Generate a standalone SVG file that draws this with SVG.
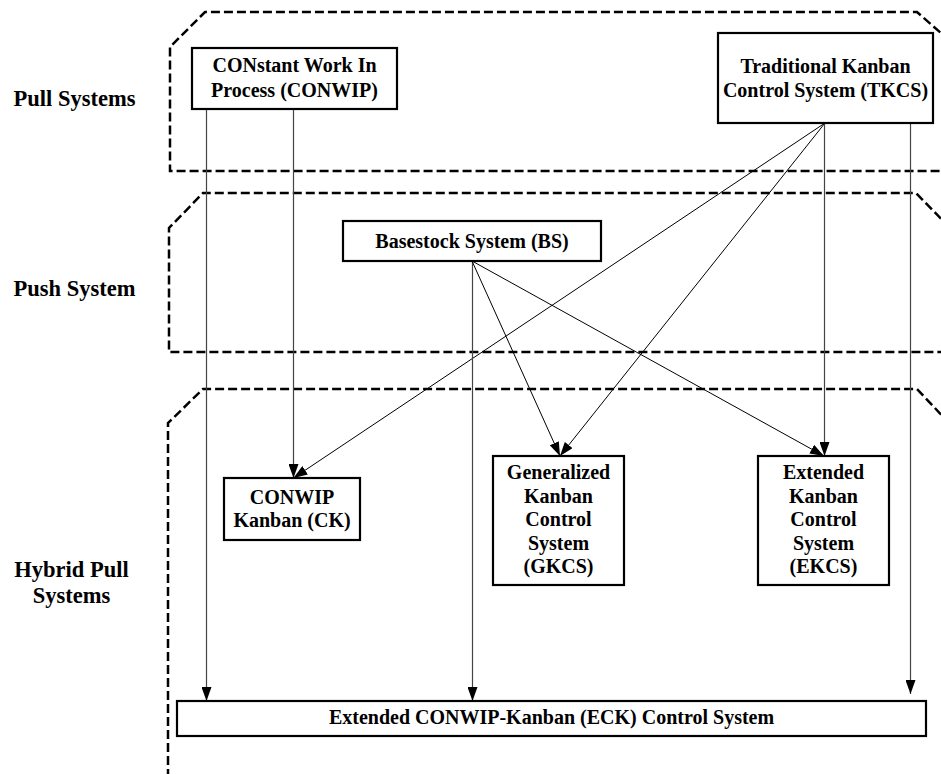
<svg xmlns="http://www.w3.org/2000/svg" width="941" height="774" viewBox="0 0 941 774">
<style>
.region{fill:none;stroke:#000;stroke-width:2.5;stroke-dasharray:9,4}
.box{fill:#fff;stroke:#000;stroke-width:2.2}
.t{font-family:'Liberation Serif','Tinos','DejaVu Serif',serif;font-weight:bold;font-size:20px;text-anchor:middle;fill:#000}
.lbl{font-family:'Liberation Serif','Tinos','DejaVu Serif',serif;font-weight:bold;font-size:22.5px;text-anchor:middle;fill:#000}
.v{stroke:#444;stroke-width:1.2;fill:none;marker-end:url(#ah)}
.d{stroke:#000;stroke-width:1;fill:none;marker-end:url(#ah)}
</style>
<defs>
<marker id="ah" viewBox="0 0 14 10" refX="14" refY="5" markerWidth="14" markerHeight="10" markerUnits="userSpaceOnUse" orient="auto">
<path d="M0,0 L14,5 L0,10 z" fill="#000"/>
</marker>
</defs>
<g id="regions">
<path class="region" d="M950,41 L917,12 L205,12 L170,47 L170,171 L950,171"/>
<path class="region" d="M950,228 L916,193 L203,193 L169,228 L169,352 L950,352"/>
<path class="region" d="M950,424 L917,389 L203,389 L168,423 L168,780"/>
</g>
<g id="labels">
<text class="lbl" x="74.5" y="106">Pull Systems</text>
<text class="lbl" x="74.5" y="296">Push System</text>
<text class="lbl" x="71.5" y="577">Hybrid Pull</text>
<text class="lbl" x="71.5" y="603">Systems</text>
</g>
<g id="connectors">
<line class="v" x1="206.5" y1="109" x2="206.5" y2="701"/>
<line class="v" x1="293.5" y1="109" x2="293.5" y2="478"/>
<line class="d" x1="825" y1="123" x2="293.5" y2="478"/>
<line class="d" x1="825" y1="123" x2="560" y2="456"/>
<line class="v" x1="824.5" y1="123" x2="824.5" y2="456"/>
<line class="v" x1="910.5" y1="123" x2="910.5" y2="694"/>
<line class="v" x1="472.5" y1="261" x2="472.5" y2="701"/>
<line class="d" x1="472" y1="261" x2="560" y2="456"/>
<line class="d" x1="472" y1="261" x2="824" y2="456"/>
</g>
<g id="conwip">
<rect class="box" x="192" y="48" width="205" height="61"/>
<text class="t" x="294.5" y="72">CONstant Work In</text>
<text class="t" x="294.5" y="97">Process (CONWIP)</text>
</g>
<g id="tkcs">
<rect class="box" x="718" y="33" width="215" height="90"/>
<text class="t" x="825.5" y="73">Traditional Kanban</text>
<text class="t" x="825.5" y="97">Control System (TKCS)</text>
</g>
<g id="bs">
<rect class="box" x="343" y="221" width="258" height="40"/>
<text class="t" x="472" y="248">Basestock System (BS)</text>
</g>
<g id="ck">
<rect class="box" x="224" y="478" width="136" height="62"/>
<text class="t" x="292" y="504">CONWIP</text>
<text class="t" x="292" y="527">Kanban (CK)</text>
</g>
<g id="gkcs">
<rect class="box" x="493" y="456" width="131" height="129"/>
<text class="t" x="558.5" y="479">Generalized</text>
<text class="t" x="558.5" y="502.5">Kanban</text>
<text class="t" x="558.5" y="526">Control</text>
<text class="t" x="558.5" y="549.5">System</text>
<text class="t" x="558.5" y="573">(GKCS)</text>
</g>
<g id="ekcs">
<rect class="box" x="758" y="456" width="131" height="129"/>
<text class="t" x="823.5" y="479">Extended</text>
<text class="t" x="823.5" y="502.5">Kanban</text>
<text class="t" x="823.5" y="526">Control</text>
<text class="t" x="823.5" y="549.5">System</text>
<text class="t" x="823.5" y="573">(EKCS)</text>
</g>
<g id="eck">
<rect class="box" x="177" y="701" width="749" height="35"/>
<text class="t" x="551.5" y="724">Extended CONWIP-Kanban (ECK) Control System</text>
</g>
</svg>
